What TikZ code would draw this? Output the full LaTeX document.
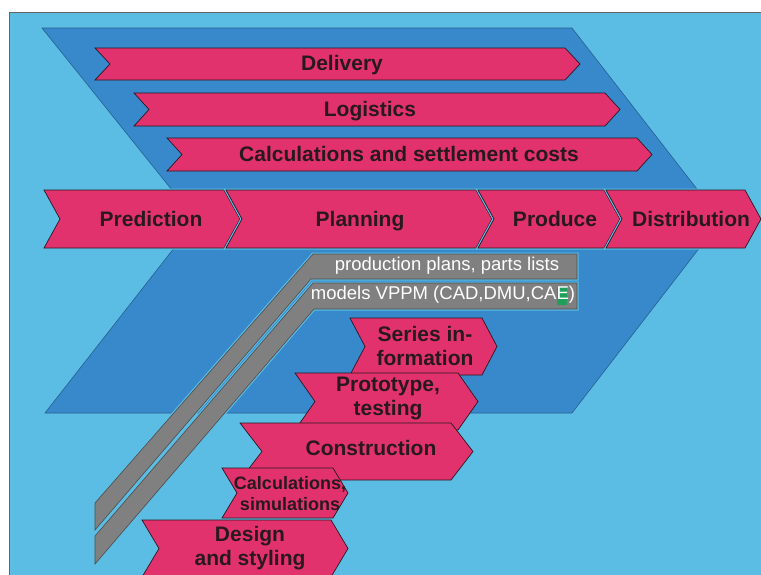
\documentclass[tikz,border=0pt]{standalone}
\usepackage{fontspec}
\setmainfont{Liberation Sans}
\definecolor{skyback}{RGB}{91,189,228}
\definecolor{deepblue}{RGB}{56,136,204}
\definecolor{rosered}{RGB}{226,50,110}
\definecolor{stripgray}{RGB}{128,128,128}
\definecolor{inkdark}{RGB}{40,25,30}
\definecolor{marker}{RGB}{30,160,90}
\newcommand{\chevron}[6][]{%
  \filldraw[chev,#1] (#2,#4) -- ({#3-#6},#4) -- (#3,{(#4+#5)/2}) -- ({#3-#6},#5)
    -- (#2,#5) -- ({#2+#6},{(#4+#5)/2}) -- cycle;}

\begin{document}
\begin{tikzpicture}[x=1pt,y=-1pt,line join=miter]
\tikzset{chev/.style={fill=rosered,draw=inkdark,line width=0.7pt}}
\tikzset{sepline/.style={preaction={draw=skyback,line width=3pt}}}
\tikzset{lbl/.style={font=\bfseries\fontsize{21}{24}\selectfont,text=inkdark,align=center,inner sep=0pt}}
\tikzset{oneline/.style={lbl,text height=15pt,text depth=0pt}}
\tikzset{smalllbl/.style={lbl,font=\bfseries\fontsize{18}{21}\selectfont}}
\tikzset{graytag/.style={font=\fontsize{18.5}{22}\selectfont,text=white,inner sep=0pt,text height=13.5pt,text depth=4pt}}
\useasboundingbox (0,0) rectangle (761,574);
\fill[white] (0,0) rectangle (761,574);
\filldraw[fill=skyback,draw=black!60,line width=0.8pt] (9,12) rectangle (780,590);
% big arrow behind everything
\filldraw[fill=deepblue,draw=deepblue!70!black,line width=0.6pt]
  (42,28) -- (572,28) -- (721,220) -- (572,413) -- (45,413) -- (196,220) -- cycle;
% data strips
\filldraw[fill=stripgray,draw=black!70,line width=0.6pt,sepline]
  (95,503) -- (313,254) -- (577,254) -- (577,279) -- (311,279) -- (95,530) -- cycle;
\filldraw[fill=stripgray,draw=black!70,line width=0.6pt,sepline]
  (95,536) -- (313,283) -- (577,283) -- (577,309) -- (314,309) -- (95,564) -- cycle;
\fill[marker] (557,287) rectangle (567,305);
\node[graytag] (plans) at (447,266) {production plans, parts lists};
\node[graytag] (models) at (443,295) {models VPPM (CAD,DMU,CAE)};
% upper bands
\chevron{95}{580}{48}{80}{15}
\chevron{134}{620}{93}{126}{15}
\chevron{167}{652}{138}{171}{15}
\node[oneline] (delivery) at (342,63) {Delivery};
\node[oneline] (logistics) at (370,109) {Logistics};
\node[oneline] (costs) at (409,154) {Calculations and settlement costs};
% main process row
\chevron[sepline]{44}{240}{190}{248}{16}
\chevron[sepline]{226}{492}{190}{248}{16}
\chevron[sepline]{478}{620}{190}{248}{16}
\chevron[sepline]{606}{761}{190}{248}{16}
\node[oneline] (prediction) at (151,219) {Prediction};
\node[oneline] (planning) at (360,219) {Planning};
\node[oneline] (produce) at (555,219) {Produce};
\node[oneline] (distribution) at (691,219) {Distribution};
% development steps
\chevron{350}{497}{318}{375}{15}
\chevron{295}{478}{373}{430}{20}
\chevron{240}{473}{423}{480}{22}
\chevron{222}{348}{468}{518}{15}
\chevron{142}{348}{520}{577}{17}
\node[lbl] (series) at (425,346) {Series in-\\formation};
\node[lbl] (prototype) at (388,398) {Prototype,\\testing};
\node[oneline] (construction) at (371,448) {Construction};
\node[smalllbl] (simulations) at (290,494) {Calculations,\\simulations};
\node[lbl] (design) at (250,548) {Design\\and styling};
\end{tikzpicture}
\end{document}
